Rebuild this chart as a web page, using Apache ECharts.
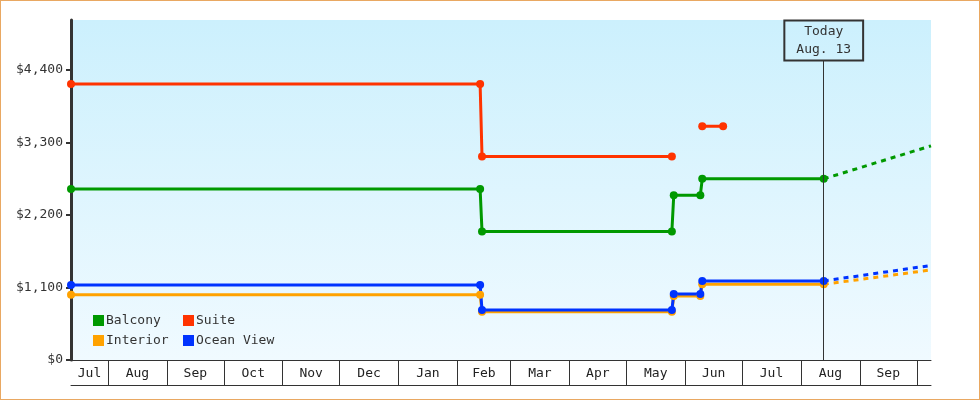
<!DOCTYPE html>
<html>
<head>
<meta charset="utf-8">
<script src="https://cdn.jsdelivr.net/npm/echarts@6/dist/echarts.min.js"></script>
<style>
  html, body { margin: 0; padding: 0; background: #fff; }
  #wrap { position: relative; width: 980px; height: 400px; }
  #chart { width: 980px; height: 400px; }
  #frame { position: absolute; left: 0; top: 0; width: 980px; height: 400px; box-sizing: border-box; border: 1px solid #e9a862; pointer-events: none; }
</style>
</head>
<body>
<div id="wrap"><div id="chart"></div><div id="frame"></div></div>
<script>
// ---- data ----
const START = '2018-07-12T12:00:00';
const END = '2019-10-08T12:00:00';
const TODAY = '2019-08-13';

const stepDates = ['2018-07-12T12:00:00', '2019-02-13', '2019-02-14', '2019-05-25', '2019-05-26', '2019-06-09', '2019-06-10', '2019-08-13'];
const balcony   = [2597, 2597, 1949, 1949, 2501, 2501, 2749, 2749];
const interior  = [990, 990, 734, 734, 972, 972, 1149, 1149];
const oceanView = [1139, 1139, 759, 759, 1002, 1002, 1200, 1200];

const suiteDates = ['2018-07-12T12:00:00', '2019-02-13', '2019-02-14', '2019-05-25', '2019-06-01', '2019-06-10', '2019-06-21'];
const suite      = [4190, 4190, 3088, 3088, null, 3549, 3549];

const forecastDates     = ['2019-08-13', '2019-10-08T12:00:00'];
const balconyForecast   = [2749, 3250];
const interiorForecast  = [1149, 1367];
const oceanForecast     = [1200, 1435];

const yTicks = [0, 1100, 2200, 3300, 4400];
const monthStarts = ['2018-08-01', '2018-09-01', '2018-10-01', '2018-11-01', '2018-12-01', '2019-01-01', '2019-02-01', '2019-03-01', '2019-04-01', '2019-05-01', '2019-06-01', '2019-07-01', '2019-08-01', '2019-09-01', '2019-10-01'];
const monthLabels = ['Jul', 'Aug', 'Sep', 'Oct', 'Nov', 'Dec', 'Jan', 'Feb', 'Mar', 'Apr', 'May', 'Jun', 'Jul', 'Aug', 'Sep'];
const monthNames = ['Jan', 'Feb', 'Mar', 'Apr', 'May', 'Jun', 'Jul', 'Aug', 'Sep', 'Oct', 'Nov', 'Dec'];

// ---- helpers ----
const parse = s => echarts.time.parse(s).getTime();
const zip = (xs, ys) => xs.map((x, i) => [parse(x), ys[i]]);

const edges = [parse(START)].concat(monthStarts.map(parse)).concat([parse(END)]);
const labelPos = monthLabels.map((_, i) => (edges[i] + edges[i + 1]) / 2);
function labelFor(v) {
  let best = 0, bd = Infinity;
  labelPos.forEach((p, i) => { const d = Math.abs(p - v); if (d < bd) { bd = d; best = i; } });
  return monthLabels[best];
}
const td = echarts.time.parse(TODAY);
const todayText = 'Today\n' + monthNames[td.getMonth()] + '. ' + td.getDate();

const FONT = 'DejaVu Sans Mono';
const C = { balcony: '#009900', suite: '#ff3300', interior: '#ffa200', ocean: '#0033ff' };

function stepSeries(name, data, color, extra) {
  return Object.assign({
    name, type: 'line', data, connectNulls: false,
    symbol: 'circle', symbolSize: 8, showSymbol: true,
    lineStyle: { width: 3, color }, itemStyle: { color },
    emphasis: { disabled: true }
  }, extra || {});
}
function forecastSeries(name, data, color) {
  return {
    name, type: 'line', data, symbol: 'none',
    lineStyle: { width: 3, color, type: [5, 5] }, itemStyle: { color },
    emphasis: { disabled: true }
  };
}

const chart = echarts.init(document.getElementById('chart'));
chart.setOption({
  animation: false,
  backgroundColor: '#ffffff',
  textStyle: { fontFamily: FONT },
  grid: {
    left: 71, right: 49, top: 20, bottom: 40, show: true, borderWidth: 0,
    backgroundColor: { type: 'linear', x: 0, y: 0, x2: 0, y2: 1,
      colorStops: [{ offset: 0, color: '#ccf0fd' }, { offset: 1, color: '#f0faff' }] }
  },
  legend: [
    { data: ['Balcony', 'Interior'], orient: 'vertical', left: 93, top: 314, padding: 0,
      icon: 'rect', itemWidth: 11, itemHeight: 11, itemGap: 7,
      textStyle: { fontFamily: FONT, fontSize: 13, color: '#333', padding: [0, 0, 0, -3] } },
    { data: ['Suite', 'Ocean View'], orient: 'vertical', left: 183, top: 314, padding: 0,
      icon: 'rect', itemWidth: 11, itemHeight: 11, itemGap: 7,
      textStyle: { fontFamily: FONT, fontSize: 13, color: '#333', padding: [0, 0, 0, -3] } }
  ],
  xAxis: [
    { type: 'value', min: parse(START), max: parse(END), position: 'bottom',
      axisLine: { show: true, lineStyle: { color: '#333', width: 1 } },
      axisTick: { show: true, customValues: monthStarts.map(parse), length: 25, lineStyle: { color: '#333', width: 1 } },
      axisLabel: { show: true, customValues: labelPos, formatter: v => labelFor(v),
        fontFamily: FONT, fontSize: 13, color: '#222', margin: 7, lineHeight: 13 },
      splitLine: { show: false } },
    { type: 'value', min: parse(START), max: parse(END), position: 'bottom', offset: 25,
      axisLine: { show: true, lineStyle: { color: '#333', width: 1 } },
      axisTick: { show: false }, axisLabel: { show: false }, splitLine: { show: false } }
  ],
  yAxis: {
    type: 'value', min: 0, max: 5160,
    axisLine: { show: true, lineStyle: { color: '#333', width: 3 } },
    axisTick: { show: true, customValues: yTicks, length: 5, lineStyle: { color: '#333', width: 2 } },
    axisLabel: { customValues: yTicks, formatter: v => '$' + v.toLocaleString('en-US'),
      fontFamily: FONT, fontSize: 13, color: '#333', margin: 8 },
    splitLine: { show: false }
  },
  series: [
    stepSeries('Balcony', zip(stepDates, balcony), C.balcony, {
      markLine: {
        silent: true, symbol: 'none', animation: false,
        lineStyle: { color: '#333', width: 1, type: 'solid' },
        label: { show: true, position: 'end', distance: 0, formatter: todayText,
          fontFamily: FONT, fontSize: 13, color: '#333', lineHeight: 18, align: 'center',
          padding: [2, 12], borderColor: '#333', borderWidth: 1, backgroundColor: 'transparent' },
        data: [[{ coord: [parse(TODAY), 0] }, { coord: [parse(TODAY), 4546] }]]
      }
    }),
    stepSeries('Suite', zip(suiteDates, suite), C.suite),
    stepSeries('Interior', zip(stepDates, interior), C.interior),
    stepSeries('Ocean View', zip(stepDates, oceanView), C.ocean),
    forecastSeries('Balcony forecast', zip(forecastDates, balconyForecast), C.balcony),
    forecastSeries('Interior forecast', zip(forecastDates, interiorForecast), C.interior),
    forecastSeries('Ocean View forecast', zip(forecastDates, oceanForecast), C.ocean)
  ]
});
</script>
</body>
</html>
